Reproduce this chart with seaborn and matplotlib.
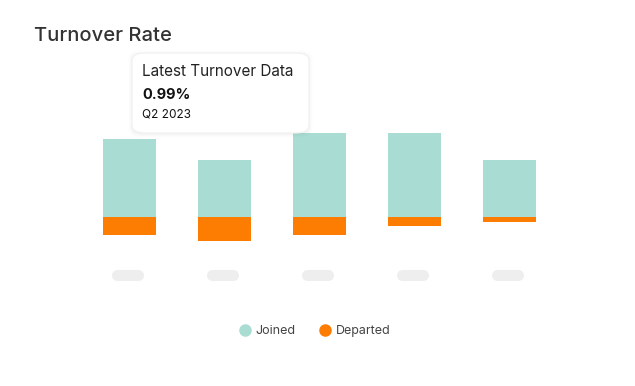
import pandas as pd
import matplotlib.pyplot as plt
import seaborn as sns
from matplotlib.patches import FancyBboxPatch
from matplotlib.lines import Line2D

# values (arbitrary units, joined up / departed down)
quarters = ["Q2 2022", "Q3 2022", "Q4 2022", "Q1 2023", "Q2 2023"]
joined = [13, 9.5, 14, 14, 9.5]
departed = [-3, -4, -3, -1.5, -0.8]

title = "Turnover Rate"
tip_title = "Latest Turnover Data"
tip_value = "0.99%"
tip_period = "Q2 2023"

JOINED_C = "#a9ddd3"
DEPARTED_C = "#fd7c02"
PILL_C = "#eeeeee"

W, H = 635, 386


def px(x, y):
    return x / W, 1 - y / H


df = pd.DataFrame({
    "quarter": quarters * 2,
    "value": joined + departed,
    "kind": ["Joined"] * len(quarters) + ["Departed"] * len(quarters),
})

sns.set_theme(style="white")
plt.rcParams["font.family"] = ["Inter", "DejaVu Sans"]

fig = plt.figure(figsize=(W / 100, H / 100), dpi=100)
ax = fig.add_axes([82 / W, 1 - 290 / H, 475 / W, 170 / H])

sns.barplot(data=df, x="quarter", y="value", hue="kind", dodge=False,
            palette={"Joined": JOINED_C, "Departed": DEPARTED_C},
            width=0.56, saturation=1, legend=False, ax=ax)
for p in ax.patches:
    p.set_linewidth(0)

ax.set_ylim(-(290 - 217) / 6, (217 - 120) / 6)
ax.set_xlim(-0.5, len(quarters) - 0.5)

# placeholder pills in place of tick labels
pill_y = -(275 - 217) / 6
for i in range(len(quarters)):
    ax.plot([i - 0.13, i + 0.09], [pill_y, pill_y], color=PILL_C, lw=8,
            solid_capstyle="round", zorder=1)

ax.set_xticks([])
ax.set_yticks([])
ax.set_xlabel("")
ax.set_ylabel("")
sns.despine(ax=ax, left=True, bottom=True)

fig.text(*px(34, 36), title, fontsize=14.5, color="#333333", va="center",
         ha="left", fontweight="medium")

# tooltip box with soft shadow
x0, y0 = px(132, 133)
bw, bh = 177 / W, 80 / H
for k, a in enumerate([0.008, 0.012, 0.018]):
    g = (3 - k) * 1.2
    fig.patches.append(FancyBboxPatch(
        (x0 - g / W, y0 - (g + 1) / H), bw + 2 * g / W, bh + 2 * g / H,
        boxstyle="round,pad=0,rounding_size=0.02", transform=fig.transFigure,
        facecolor="black", edgecolor="none", alpha=a, zorder=5))
fig.patches.append(FancyBboxPatch(
    (x0, y0), bw, bh, boxstyle="round,pad=0,rounding_size=0.02",
    transform=fig.transFigure, facecolor="white", edgecolor="#f0f0f0",
    lw=0.8, zorder=6))
fig.text(*px(142, 72), tip_title, fontsize=11, color="#222222",
         va="center", zorder=7)
fig.text(*px(142, 95), tip_value, fontsize=10.5, color="#111111",
         fontweight="bold", va="center", zorder=7)
fig.text(*px(142, 114), tip_period, fontsize=8.5, color="#111111",
         va="center", zorder=7)

handles = [Line2D([], [], marker="o", ls="", ms=8, color=JOINED_C),
           Line2D([], [], marker="o", ls="", ms=8, color=DEPARTED_C)]
fig.legend(handles, ["Joined", "Departed"], loc="center",
           bbox_to_anchor=px(313, 331), ncol=2, frameon=False,
           fontsize=9, handletextpad=0.1, columnspacing=1.6,
           handlelength=1.5, labelcolor="#444444")

fig.savefig("out.png", dpi=100)
